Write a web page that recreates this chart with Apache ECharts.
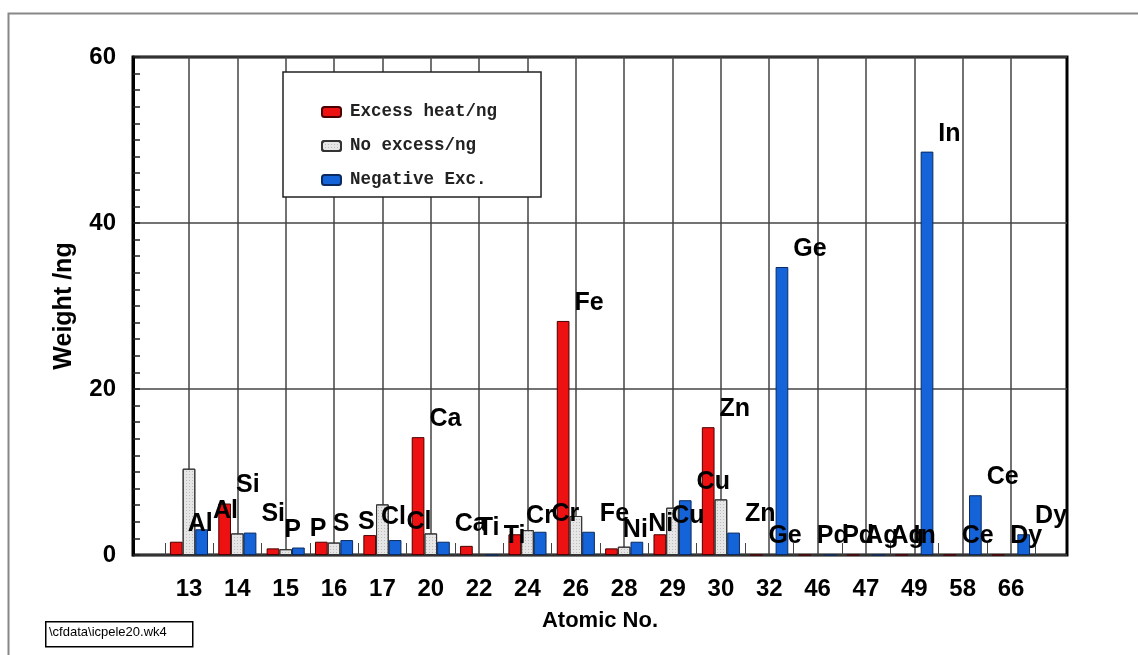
<!DOCTYPE html>
<html>
<head>
<meta charset="utf-8">
<script src="https://cdn.jsdelivr.net/npm/echarts@6/dist/echarts.min.js"></script>
<style>html,body{margin:0;padding:0;background:#fff;}#c{width:1138px;height:655px;}</style>
</head>
<body>
<div id="c"></div>
<script>
const categories = ['13','14','15','16','17','20','22','24','26','28','29','30','32','46','47','49','58','66'];
const elements = ['Al','Si','P','S','Cl','Ca','Ti','Cr','Fe','Ni','Cu','Zn','Ge','Pd','Ag','In','Ce','Dy'];
const excessHeat = [1.6,6.2,0.8,1.6,2.4,14.2,1.1,2.5,28.2,0.8,2.5,15.4,0,0,0,0,0,0];
const noExcess = [10.4,2.6,0.7,1.5,6.1,2.6,0,3.0,4.7,1.0,5.7,6.7,0,0,0,0,0,0];
const negativeExc = [3.1,2.7,0.9,1.8,1.8,1.6,0,2.8,2.8,1.6,6.6,2.7,34.7,0,0,48.6,7.2,2.5];
const yTicks = [0,20,40,60];

const FONT = '"Liberation Sans",Arial,sans-serif';
const MONO = '"Liberation Mono","DejaVu Sans Mono",monospace';

const chart = echarts.init(document.getElementById('c'), null, {renderer:'canvas'});
const elemLabel = {
  show: true,
  position: ['100%', 0],
  offset: [5, -18],
  align: 'left',
  verticalAlign: 'middle',
  color: '#000',
  fontFamily: FONT,
  fontWeight: 'bold',
  fontSize: 25,
  formatter: p => elements[p.dataIndex]
};
chart.setOption({
  animation: false,
  backgroundColor: '#fff',
  grid: [
    {left: 164.8, right: 102.8, top: 57, bottom: 100},
    {left: 133, right: 71, top: 57, bottom: 100, show: true, borderColor: '#000', borderWidth: 3, backgroundColor: 'transparent'}
  ],
  legend: {
    orient: 'vertical',
    left: 283, top: 72,
    padding: [31, 44, 8, 38],
    itemGap: 16,
    itemWidth: 19, itemHeight: 10,
    backgroundColor: '#fff',
    borderColor: '#222', borderWidth: 1.5,
    textStyle: {fontFamily: MONO, fontWeight: 'bold', fontSize: 17.5, color: '#222', padding: [0,0,0,4]},
    data: ['Excess heat/ng','No excess/ng','Negative Exc.']
  },
  xAxis: [
    {
      type: 'category', gridIndex: 0, data: categories,
      axisLine: {show: false},
      axisTick: {show: true, alignWithLabel: true, inside: true, length: 498, interval: 0,
                 lineStyle: {color: '#444', width: 1.5}},
      axisLabel: {fontFamily: FONT, fontWeight: 'bold', fontSize: 24, color: '#000', margin: 22, interval: 0},
      splitLine: {show: false},
      name: 'Atomic No.', nameLocation: 'middle', nameGap: 55,
      nameTextStyle: {fontFamily: FONT, fontWeight: 'bold', fontSize: 22, color: '#000'}
    },
    {
      type: 'category', gridIndex: 0, data: categories, position: 'bottom',
      axisLine: {show: false},
      axisTick: {show: true, inside: true, length: 12, interval: 0, lineStyle: {color: '#444', width: 1}},
      axisLabel: {show: false},
      splitLine: {show: false}
    },
    {type: 'value', gridIndex: 1, show: false, min: 0, max: 1, splitLine: {show: false}}
  ],
  yAxis: [
    {type: 'value', gridIndex: 0, min: 0, max: 60, show: false, splitLine: {show: false}},
    {
      type: 'value', gridIndex: 1, min: yTicks[0], max: yTicks[yTicks.length-1], interval: 20,
      axisLine: {show: true, lineStyle: {color: '#000', width: 3}},
      axisTick: {show: true, inside: true, length: 7, lineStyle: {color: '#222', width: 1.5}},
      minorTick: {show: true, splitNumber: 10, length: 7, lineStyle: {color: '#222', width: 1.5}},
      axisLabel: {fontFamily: FONT, fontWeight: 'bold', fontSize: 24, color: '#000', margin: 17, padding: [8,0,0,0]},
      splitLine: {show: true, lineStyle: {color: '#444', width: 1.5}},
      name: 'Weight /ng', nameLocation: 'middle', nameGap: 56, nameRotate: 90,
      nameTextStyle: {fontFamily: FONT, fontWeight: 'bold', fontSize: 25, color: '#000'}
    }
  ],
  series: [
    {
      name: 'Excess heat/ng', type: 'bar', xAxisIndex: 0, yAxisIndex: 0,
      data: excessHeat, barWidth: 12.7, barGap: '0%',
      itemStyle: {color: '#ee1111', borderColor: '#4a0000', borderWidth: 1},
      label: elemLabel
    },
    {
      name: 'No excess/ng', type: 'bar', xAxisIndex: 0, yAxisIndex: 0,
      data: noExcess, barWidth: 12.7, barGap: '0%',
      itemStyle: {color: '#e6e6e6', borderColor: '#333', borderWidth: 1,
        decal: {symbol: 'rect', symbolSize: 1, dashArrayX: [1, 2], dashArrayY: [1, 2], color: 'rgba(0,0,0,0.18)'}}
    },
    {
      name: 'Negative Exc.', type: 'bar', xAxisIndex: 0, yAxisIndex: 0,
      data: negativeExc, barWidth: 12.7, barGap: '0%',
      itemStyle: {color: '#1463d8', borderColor: '#0a2a60', borderWidth: 1},
      label: elemLabel
    }
  ],
  graphic: [
    {type: 'rect', left: 6, top: 11, shape: {width: 1200, height: 700},
     style: {fill: 'none', stroke: '#888', lineWidth: 2}, silent: true, z: -10},
    {type: 'rect', left: 45, top: 621, shape: {width: 147, height: 25},
     style: {fill: '#fff', stroke: '#000', lineWidth: 1.5}, z: 10},
    {type: 'text', left: 49, top: 626,
     style: {text: '\\cfdata\\icpele20.wk4', fill: '#000', font: '13px "Liberation Sans",Arial,sans-serif'}, z: 11}
  ]
});
</script>
</body>
</html>
